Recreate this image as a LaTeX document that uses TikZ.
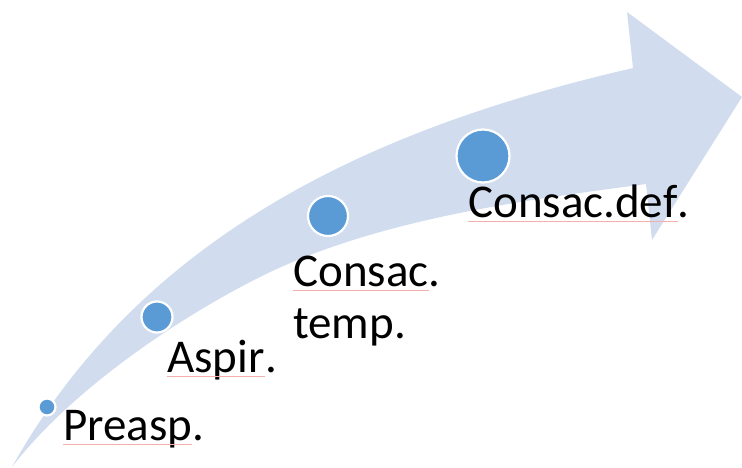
\documentclass[tikz,border=0pt]{standalone}
\usepackage{fontspec}
\setmainfont{Carlito}
\definecolor{bandblue}{RGB}{209,221,238}
\definecolor{dotblue}{RGB}{91,155,213}
\definecolor{spellred}{RGB}{245,175,175}
\begin{document}
\begin{tikzpicture}[x=1pt,y=-1pt,
  dot/.style={circle,fill=dotblue,draw=white,line width=2.2pt,inner sep=0pt,minimum size=#1},
  word/.style={anchor=base west,inner sep=0pt,font=\fontsize{47}{52}\selectfont},
  squiggle/.style={draw=spellred,line width=0.6pt}]
\useasboundingbox (0,0) rectangle (742,468);

% curved band with its arrowhead
\fill[bandblue]
  (12,467) .. controls (150,220) and (400,122) .. (633,68)
  -- (627,12) -- (742,97) -- (652,240) -- (646,184)
  .. controls (536,199) and (380,217) .. (260,277)
  .. controls (180,317) and (72,389) .. (12,467)
  -- cycle;

% stage markers
\node[dot=17pt] (d1) at (47,407) {};
\node[dot=31pt] (d2) at (157,317) {};
\node[dot=40pt] (d3) at (328,216) {};
\node[dot=53pt] (d4) at (483,156) {};

% stage labels
\node[word] (w1) at (63,440) {Preasp};
\node[word,anchor=base west] at (w1.base east) {.};
\node[word] (w2) at (167,372) {Aspir};
\node[word,anchor=base west] at (w2.base east) {.};
\node[word] (w3) at (293,286) {Consac};
\node[word,anchor=base west] at (w3.base east) {.};
\node[word] (w3b) at (293,338) {temp.};
\node[word] (w4) at (468,217) {Consac.def};
\node[word,anchor=base west] at (w4.base east) {.};

% spell-check underlines
\draw[squiggle] ([yshift=-4pt]w1.base west) -- ([yshift=-4pt]w1.base east);
\draw[squiggle] ([yshift=-4pt]w2.base west) -- ([yshift=-4pt]w2.base east);
\draw[squiggle] ([yshift=-4pt]w3.base west) -- ([yshift=-4pt]w3.base east);
\draw[squiggle] ([yshift=-4pt]w4.base west) -- ([yshift=-4pt]w4.base east);
\end{tikzpicture}
\end{document}
